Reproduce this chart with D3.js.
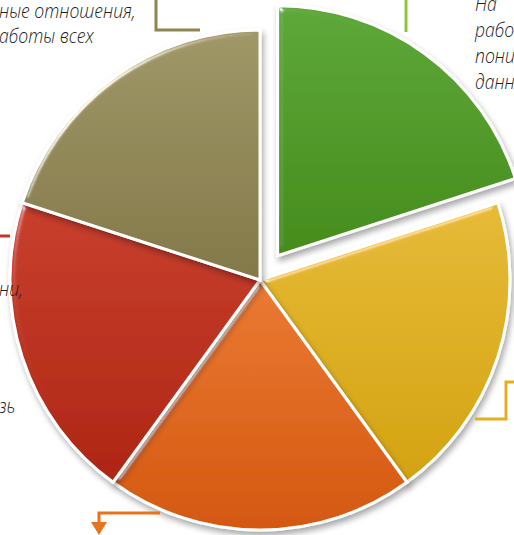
<!DOCTYPE html>
<html>
<head>
<meta charset="utf-8">
<script src="https://cdn.jsdelivr.net/npm/d3@7"></script>
<style>
  body { margin: 0; background: #fff; overflow: hidden; }
  text { font-family: "Open Sans", sans-serif; font-style: italic; font-weight: 300; fill: #1e1e1e; }
</style>
</head>
<body>
<div class="container"></div>
<script>
// five equal segments, clockwise from 12 o'clock
var categories = ["green", "yellow", "orange", "red", "tan"];
var values = [1, 1, 1, 1, 1];
var topColors = ["#5ea83a", "#e6bb38", "#eb7a34", "#c9402e", "#a09868"];
var bottomColors = ["#468c1c", "#d4a312", "#d45810", "#ae2614", "#837849"];
var lineColors = ["#8cc63f", "#e2b01c", "#e8731e", "#c0392b", "#8f8456"];

// label fragments (the text runs off the picture edges)
var textTopLeft = ["ные отношения,", "аботы всех"];
var textTopRight = ["На", "рабо", "пони", "данн"];
var textLeft = ["ни,", "зь"];

const WIDTH = 514;
const HEIGHT = 535;
const CX = 260, CY = 280, RADIUS = 250;
const SQUEEZE = 0.88;

var svg = d3.select('.container').append('svg')
    .attr('width', WIDTH)
    .attr('height', HEIGHT);

var defs = svg.append('defs');

categories.forEach(function (c, i) {
  var g = defs.append('linearGradient')
      .attr('id', 'grad-' + c)
      .attr('x1', 0).attr('y1', 0).attr('x2', 0).attr('y2', 1);
  g.append('stop').attr('offset', '0%').attr('stop-color', topColors[i]);
  g.append('stop').attr('offset', '100%').attr('stop-color', bottomColors[i]);
});

// bevel + shadow
var f = defs.append('filter').attr('id', 'bevel')
    .attr('x', '-10%').attr('y', '-10%').attr('width', '130%').attr('height', '130%');
f.append('feGaussianBlur').attr('in', 'SourceAlpha').attr('stdDeviation', 3.5).attr('result', 'blur');
var spec = f.append('feSpecularLighting').attr('in', 'blur').attr('surfaceScale', 6)
    .attr('specularConstant', 1).attr('specularExponent', 40)
    .attr('lighting-color', '#ffffff').attr('result', 'spec');
spec.append('feDistantLight').attr('azimuth', 225).attr('elevation', 25);
f.append('feComposite').attr('in', 'spec').attr('in2', 'SourceAlpha')
    .attr('operator', 'in').attr('result', 'specIn');
f.append('feComposite').attr('in', 'SourceGraphic').attr('in2', 'specIn')
    .attr('operator', 'arithmetic').attr('k1', 0).attr('k2', 1).attr('k3', 0.75).attr('k4', 0)
    .attr('result', 'lit');
f.append('feGaussianBlur').attr('in', 'SourceAlpha').attr('stdDeviation', 3).attr('result', 'sblur');
f.append('feOffset').attr('in', 'sblur').attr('dx', 2).attr('dy', 4).attr('result', 'soff');
f.append('feComponentTransfer').attr('in', 'soff').attr('result', 'shadow')
  .append('feFuncA').attr('type', 'linear').attr('slope', 0.35);
var merge = f.append('feMerge');
merge.append('feMergeNode').attr('in', 'shadow');
merge.append('feMergeNode').attr('in', 'lit');

var pie = d3.pie().sort(null).value(function (d) { return d; });
var arcs = pie(values);
var arc = d3.arc().innerRadius(0).outerRadius(RADIUS);

var pieG = svg.append('g').attr('transform', 'translate(' + CX + ',' + CY + ')');

pieG.selectAll('path')
    .data(arcs)
  .enter().append('path')
    .attr('d', arc)
    .attr('fill', function (d, i) { return 'url(#grad-' + categories[i] + ')'; })
    .attr('stroke', '#fff')
    .attr('stroke-width', 3)
    .attr('filter', 'url(#bevel)')
    .attr('transform', function (d, i) {
      if (i !== 0) return null;
      var a = (d.startAngle + d.endAngle) / 2, off = 30;
      return 'translate(' + (Math.sin(a) * off) + ',' + (-Math.cos(a) * off) + ')';
    });

// leader lines
var lines = svg.append('g').attr('fill', 'none').attr('stroke-width', 3);
lines.append('polyline').attr('points', '406,0 406,32').attr('stroke', lineColors[0]);
lines.append('polyline').attr('points', '514,382 506,382 506,419 475,419').attr('stroke', lineColors[1]);
lines.append('polyline').attr('points', '160,513 99,513 99,524').attr('stroke', lineColors[2]);
svg.append('path').attr('d', 'M91,522 L107,522 L99,535 Z').attr('fill', lineColors[2]);
lines.append('polyline').attr('points', '0,236 10,236').attr('stroke', lineColors[3]);
lines.append('polyline').attr('points', '156,0 156,30 200,30').attr('stroke', lineColors[4]);

// text fragments, squeezed horizontally to mimic the narrow handwriting
var txt = svg.append('g')
    .attr('transform', 'scale(' + SQUEEZE + ',1)')
    .style('font-size', '20px');
txt.selectAll('.tl').data(textTopLeft).enter().append('text')
    .attr('x', -1 / SQUEEZE).attr('y', function (d, i) { return 18 + i * 25; })
    .text(function (d) { return d; });
txt.selectAll('.tr').data(textTopRight).enter().append('text')
    .attr('x', 475 / SQUEEZE).attr('y', function (d, i) { return 11 + i * 26; })
    .text(function (d) { return d; });
txt.selectAll('.lf').data(textLeft).enter().append('text')
    .attr('x', -1 / SQUEEZE).attr('y', function (d, i) { return 296 + i * 117; })
    .text(function (d) { return d; });
</script>
</body>
</html>
